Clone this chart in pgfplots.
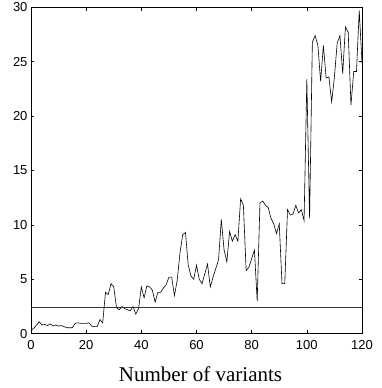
\documentclass[border=0pt]{standalone}
\usepackage{fontspec}
\setmainfont{Liberation Serif}
\newfontfamily\arial{Liberation Sans}
\usepackage{pgfplots}
\pgfplotsset{compat=1.18}
\begin{document}
\begin{tikzpicture}
\useasboundingbox (-31pt,-54.3pt) rectangle (350pt,333.7pt);
\begin{axis}[
  scale only axis,
  width=331pt, height=326.4pt,
  xmin=0, xmax=120, ymin=0, ymax=30,
  xtick={0,20,...,120}, ytick={0,5,...,30},
  tick align=inside, tick pos=both,
  major tick length=3.5pt,
  axis line style={line width=0.9pt},
  tick style={line width=0.5pt, black},
  /pgf/number format/assume math mode=true,
  ticklabel style={font=\arial\fontsize{13}{13}\selectfont},
  xticklabel style={yshift=-3pt},
  yticklabel style={xshift=0pt},
  xlabel={Number of variants},
  xlabel style={font=\fontsize{21}{21}\selectfont, at={(axis description cs:0.5,0)}, anchor=base, yshift=-48pt, xshift=4pt},
]
\addplot[black, line width=0.6pt] coordinates {
(0,0.3)(1,0.5)(2,0.8)(3,1.1)(4,0.8)(5,0.85)(6,0.75)(7,0.9)(8,0.7)(9,0.8)
(10,0.7)(11,0.75)(12,0.65)(13,0.55)(14,0.55)(15,0.55)(16,0.95)(17,1.0)(18,0.95)(19,0.95)
(20,0.95)(21,1.0)(22,0.7)(23,0.65)(24,0.65)(25,1.3)(26,1.0)(27,3.8)(28,3.6)(29,4.6)
(30,4.3)(31,2.4)(32,2.2)(33,2.5)(34,2.3)(35,2.2)(36,2.1)(37,2.5)(38,1.8)(39,2.3)
(40,4.3)(41,3.3)(42,4.4)(43,4.3)(44,4.0)(45,2.9)(46,3.8)(47,3.8)(48,4.2)(49,4.5)
(50,5.2)(51,5.2)(52,3.5)(53,4.9)(54,7.4)(55,9.1)(56,9.3)(57,6.3)(58,5.3)(59,5.0)
(60,6.3)(61,5.0)(62,4.6)(63,5.5)(64,6.4)(65,4.3)(66,5.2)(67,6.0)(68,6.8)(69,10.5)
(70,7.7)(71,6.6)(72,9.4)(73,8.5)(74,9.1)(75,8.5)(76,12.4)(77,11.8)(78,5.8)(79,6.1)
(80,6.9)(81,7.7)(82,3.0)(83,12.0)(84,12.2)(85,11.8)(86,11.6)(87,10.6)(88,10.1)(89,9.2)
(90,10.1)(91,4.6)(92,4.6)(93,11.4)(94,10.9)(95,11.0)(96,11.8)(97,11.1)(98,11.4)(99,10.4)
(100,23.4)(101,10.6)(102,26.8)(103,27.4)(104,26.5)(105,23.2)(106,26.5)(107,23.5)(108,23.6)(109,21.3)
(110,23.6)(111,26.7)(112,27.4)(113,23.9)(114,28.2)(115,27.7)(116,21.0)(117,24.1)(118,24.1)(119,29.7)
(120,24.9)
};
\addplot[black!80, line width=0.6pt] coordinates {(0,2.45)(120,2.45)};
\end{axis}
\end{tikzpicture}
\end{document}
